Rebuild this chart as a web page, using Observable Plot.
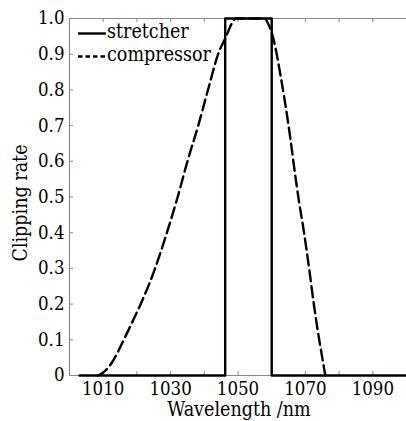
<!DOCTYPE html>
<html><head><meta charset="utf-8">
<script src="https://cdn.jsdelivr.net/npm/d3@7"></script>
<script src="https://cdn.jsdelivr.net/npm/@observablehq/plot@0.6"></script>
<style>body{margin:0;background:#fff} svg{display:block}</style>
</head><body><div id="chart"></div>
<script>
// ---- data ----
const seriesNames = ["stretcher", "compressor"];
const stretcherWavelength = [1003, 1046.2, 1046.2, 1060, 1060, 1100];
const stretcherRate       = [0, 0, 1, 1, 0, 0];
const compressorWavelength = [1008.5, 1010.5, 1012.5, 1014.3, 1016.1, 1018.8, 1021.6, 1025.4, 1028.9, 1032.1, 1035.0, 1038.2, 1041.1, 1044.1, 1046.5, 1048.1, 1049.3,
                              1057.8, 1059.2, 1060.4, 1062.7, 1065.0, 1067.2, 1067.9, 1069.6, 1071.1, 1072.5, 1074.1, 1075.0, 1075.9];
const compressorRate       = [0, 0.012, 0.035, 0.065, 0.1, 0.153, 0.21, 0.3, 0.4, 0.5, 0.6, 0.7, 0.8, 0.9, 0.95, 0.985, 1.0,
                              1.0, 0.98, 0.947, 0.836, 0.7, 0.546, 0.5, 0.4, 0.3, 0.2, 0.1, 0.05, 0];
const xTickLabels = [1010, 1030, 1050, 1070, 1090];
const xMinorTicks = [1000, 1010, 1020, 1030, 1040, 1050, 1060, 1070, 1080, 1090, 1100];
const yTicks = [0, 0.1, 0.2, 0.3, 0.4, 0.5, 0.6, 0.7, 0.8, 0.9, 1.0];
const xLabel = "Wavelength /nm";
const yLabel = "Clipping rate";

const stretcher = stretcherWavelength.map((w, i) => ({w, r: stretcherRate[i]}));
const compressor = compressorWavelength.map((w, i) => ({w, r: compressorRate[i]}));

const font = "'DejaVu Serif Condensed', 'Liberation Serif', serif";
const gray = "#8a8a8a";

const plot = Plot.plot({
  width: 406, height: 421,
  marginLeft: 69, marginRight: 0, marginTop: 18, marginBottom: 46,
  style: {fontFamily: font, fontSize: "18.5px", color: "#000", background: "#fff", overflow: "visible"},
  x: {domain: [1000, 1100]},
  y: {domain: [0, 1]},
  marks: [
    Plot.ruleY([1], {stroke: gray, strokeWidth: 1}),
    Plot.ruleY([0], {stroke: gray, strokeWidth: 1}),
    Plot.ruleX([1000], {stroke: gray, strokeWidth: 1.2}),
    Plot.axisX({ticks: xMinorTicks, anchor: "bottom", tickSize: -4, fill: "none", stroke: gray, label: null}),
    Plot.axisX({ticks: xMinorTicks, anchor: "top", tickSize: -3, fill: "none", stroke: gray, label: null}),
    Plot.axisX({ticks: xTickLabels, anchor: "bottom", tickSize: 0, tickPadding: 6, tickFormat: d => String(d), label: null, fill: "#000"}),
    Plot.axisY({ticks: yTicks, anchor: "left", tickSize: -4, fill: "none", stroke: gray, label: null}),
    Plot.axisY({ticks: yTicks, anchor: "left", tickSize: 0, tickPadding: 5, tickFormat: d => d === 0 ? "0" : d.toFixed(1), label: null, fill: "#000"}),
    Plot.line(compressor, {x: "w", y: "r", stroke: "#000", strokeWidth: 2.4, strokeDasharray: "11,5", curve: "monotone-x"}),
    Plot.line(stretcher, {x: "w", y: "r", stroke: "#000", strokeWidth: 2.4})
  ]
});

const svg = d3.select(plot);
// axis titles
svg.append("text").attr("x", 239).attr("y", 415.5).attr("text-anchor", "middle")
  .style("font-family", font).style("font-size", "19.5px").attr("fill", "#000").text(xLabel);
svg.append("text").attr("transform", "translate(27,203) rotate(-90)").attr("text-anchor", "middle")
  .style("font-family", font).style("font-size", "19.5px").attr("fill", "#000").text(yLabel);
// legend
const lg = svg.append("g").style("font-family", font).style("font-size", "19.5px").attr("fill", "#000").attr("text-anchor", "start");
const legendStyles = [{dash: null, y: 33.5, ty: 37.5}, {dash: "4.5,3", y: 56.5, ty: 61}];
seriesNames.forEach((name, i) => {
  const s = legendStyles[i];
  lg.append("line").attr("x1", 78).attr("x2", 106).attr("y1", s.y).attr("y2", s.y)
    .attr("stroke", "#000").attr("stroke-width", 2.4).attr("stroke-dasharray", s.dash);
  lg.append("text").attr("x", 107).attr("y", s.ty).attr("text-anchor", "start").text(name);
});

document.getElementById("chart").appendChild(plot);
</script>
</body></html>
